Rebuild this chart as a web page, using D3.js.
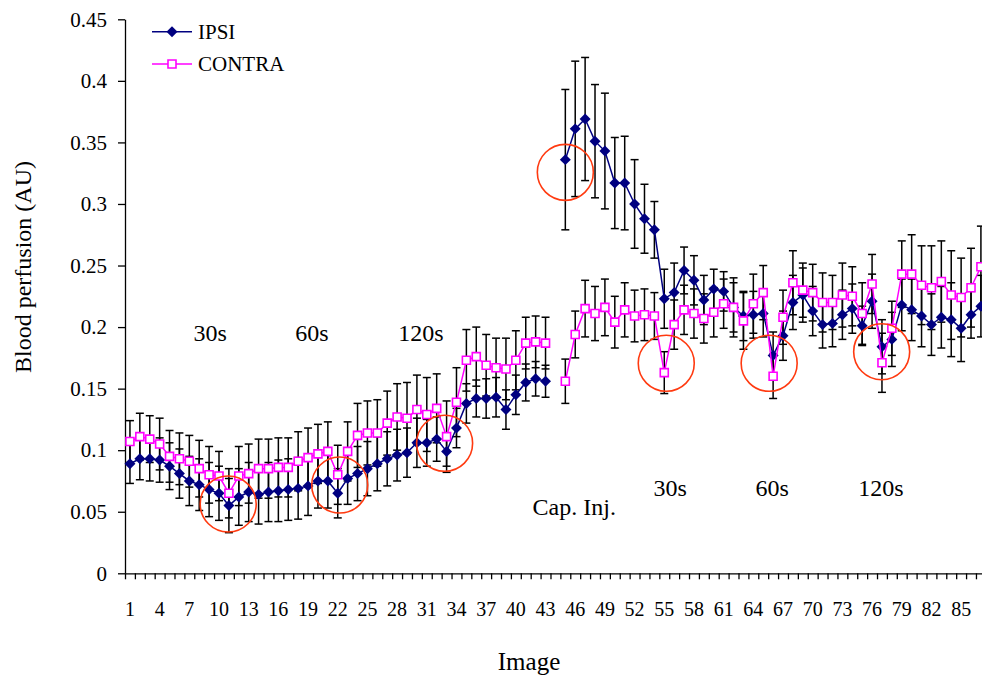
<!DOCTYPE html>
<html>
<head>
<meta charset="utf-8">
<script src="https://cdn.jsdelivr.net/npm/d3@7"></script>
<style>
body { margin: 0; background: #fff; }
text { font-family: "Liberation Serif", "Times New Roman", serif; fill: #000; }
</style>
</head>
<body>
<div id="chart"></div>
<script>
// image numbers 1..87 (image 44 was not measured)
const images = d3.range(1, 88);

const ipsi = [
  0.089, 0.093, 0.093, 0.092, 0.087, 0.081, 0.075, 0.072, 0.068, 0.065,
  0.055, 0.062, 0.066, 0.064, 0.066, 0.067, 0.068, 0.069, 0.071, 0.075,
  0.075, 0.065, 0.077, 0.081, 0.085, 0.089, 0.093, 0.096, 0.098, 0.106,
  0.106, 0.109, 0.099, 0.118, 0.138, 0.142, 0.142, 0.143, 0.133, 0.145,
  0.155, 0.158, 0.156, null, 0.336, 0.361, 0.369, 0.351, 0.343, 0.317,
  0.317, 0.300, 0.288, 0.279, 0.223, 0.228, 0.246, 0.238, 0.222, 0.231,
  0.229, 0.216, 0.209, 0.210, 0.211, 0.177, 0.193, 0.220, 0.226, 0.213,
  0.202, 0.203, 0.210, 0.215, 0.201, 0.221, 0.184, 0.190, 0.218, 0.214,
  0.209, 0.202, 0.208, 0.206, 0.199, 0.210, 0.217
];
const ipsiErr = [
  0.016, 0.017, 0.018, 0.018, 0.019, 0.020, 0.020, 0.021, 0.022, 0.022,
  0.022, 0.023, 0.024, 0.024, 0.024, 0.025, 0.025, 0.025, 0.024, 0.022,
  0.022, 0.020, 0.021, 0.022, 0.022, 0.022, 0.022, 0.021, 0.020, 0.020,
  0.019, 0.018, 0.012, 0.016, 0.016, 0.015, 0.016, 0.016, 0.016, 0.016,
  0.015, 0.014, 0.013, null, 0.057, 0.055, 0.050, 0.046, 0.047, 0.037,
  0.038, 0.036, 0.028, 0.023, 0.024, 0.024, 0.019, 0.020, 0.020, 0.016,
  0.016, 0.020, 0.020, 0.019, 0.019, 0.019, 0.020, 0.022, 0.022, 0.020,
  0.019, 0.019, 0.020, 0.020, 0.016, 0.022, 0.022, 0.022, 0.021, 0.025,
  0.025, 0.025, 0.025, 0.030, 0.027, 0.019, 0.025
];
const contra = [
  0.107, 0.111, 0.109, 0.105, 0.095, 0.093, 0.091, 0.085, 0.080, 0.079,
  0.065, 0.079, 0.081, 0.085, 0.085, 0.086, 0.086, 0.091, 0.094, 0.097,
  0.099, 0.080, 0.099, 0.112, 0.114, 0.114, 0.122, 0.127, 0.126, 0.133,
  0.129, 0.134, 0.111, 0.139, 0.173, 0.176, 0.169, 0.167, 0.166, 0.173,
  0.187, 0.188, 0.187, null, 0.156, 0.194, 0.215, 0.211, 0.216, 0.204,
  0.214, 0.209, 0.210, 0.209, 0.163, 0.202, 0.214, 0.211, 0.207, 0.212,
  0.219, 0.216, 0.205, 0.219, 0.228, 0.160, 0.208, 0.236, 0.230, 0.228,
  0.220, 0.220, 0.226, 0.225, 0.211, 0.235, 0.171, 0.199, 0.243, 0.243,
  0.234, 0.232, 0.237, 0.226, 0.224, 0.232, 0.249
];
const contraErr = [
  0.017, 0.019, 0.019, 0.021, 0.021, 0.021, 0.021, 0.023, 0.023, 0.020,
  0.020, 0.024, 0.024, 0.024, 0.024, 0.024, 0.024, 0.024, 0.024, 0.024,
  0.024, 0.024, 0.024, 0.026, 0.026, 0.027, 0.026, 0.027, 0.029, 0.028,
  0.030, 0.028, 0.029, 0.028, 0.025, 0.024, 0.025, 0.024, 0.025, 0.024,
  0.021, 0.021, 0.021, null, 0.018, 0.019, 0.023, 0.022, 0.023, 0.021,
  0.022, 0.021, 0.021, 0.019, 0.017, 0.020, 0.020, 0.020, 0.020, 0.020,
  0.020, 0.024, 0.023, 0.024, 0.022, 0.018, 0.022, 0.026, 0.022, 0.023,
  0.024, 0.022, 0.026, 0.024, 0.025, 0.024, 0.024, 0.022, 0.027, 0.032,
  0.032, 0.034, 0.033, 0.036, 0.032, 0.032, 0.033
];

const xTickLabels = d3.range(1, 88, 3);
const yTicks = d3.range(0, 0.4501, 0.05);

// text notes and red circles, placed in data units (image number, AU)
const phaseLabels = [
  {text: "30s", at: 9.1, v: 0.189},
  {text: "60s", at: 19.4, v: 0.189},
  {text: "120s", at: 30.4, v: 0.189},
  {text: "Cap. Inj.", at: 45.9, v: 0.047},
  {text: "30s", at: 55.6, v: 0.063},
  {text: "60s", at: 65.9, v: 0.063},
  {text: "120s", at: 76.9, v: 0.063}
];
const circled = [
  {at: 10.93, v: 0.0563},
  {at: 22.2, v: 0.0717},
  {at: 32.8, v: 0.1056},
  {at: 45.0, v: 0.3257},
  {at: 55.2, v: 0.1706},
  {at: 65.6, v: 0.1706},
  {at: 76.97, v: 0.180}
];

const width = 982, height = 680;
const plotLeft = 125, plotBottom = 573.3, plotTop = 19.3;
const step = 9.895;

const svg = d3.select("#chart").append("svg")
  .attr("width", width)
  .attr("height", height);

const x = d3.scaleBand().domain(images).range([plotLeft, plotLeft + images.length * step]).padding(0);
const xc = i => x(i) + x.bandwidth() / 2;
const xi = d3.scaleLinear().domain([1, 87]).range([xc(1), xc(87)]);
const xEdge = d3.scaleLinear().domain([0, images.length]).range(x.range());
const y = d3.scaleLinear().domain([0, 0.45]).range([plotBottom, plotTop]);

// y axis
const yAxis = svg.append("g")
  .attr("transform", `translate(${plotLeft},0)`)
  .call(d3.axisLeft(y).tickValues(yTicks)
    .tickFormat(d => String(+d.toFixed(2)))
    .tickSizeInner(7).tickSizeOuter(0).tickPadding(11));
yAxis.selectAll("text").style("font-size", "21px");

// x axis: tick marks between images, labels every third image
svg.append("g")
  .attr("transform", `translate(0,${plotBottom})`)
  .call(d3.axisBottom(xEdge).tickValues(d3.range(0, images.length + 1))
    .tickFormat("").tickSizeInner(6).tickSizeOuter(0));
const xAxis = svg.append("g")
  .attr("transform", `translate(0,${plotBottom})`)
  .call(d3.axisBottom(x).tickValues(xTickLabels).tickSize(0).tickPadding(29));
xAxis.select(".domain").remove();
xAxis.selectAll("text").style("font-size", "20px");

svg.selectAll(".domain, .tick line").attr("stroke", "#000").attr("stroke-width", 1.3);

function series(values, errs) {
  return images.map((img, k) => ({img, v: values[k], e: errs[k]})).filter(d => d.v != null);
}
const ipsiData = series(ipsi, ipsiErr);
const contraData = series(contra, contraErr);

// error bars
function errorBars(data) {
  const g = svg.append("g").attr("stroke", "#000").attr("stroke-width", 1.5);
  g.selectAll("line.v").data(data).join("line")
    .attr("x1", d => xc(d.img)).attr("x2", d => xc(d.img))
    .attr("y1", d => y(d.v - d.e)).attr("y2", d => y(d.v + d.e));
  for (const sign of [-1, 1]) {
    g.selectAll(null).data(data).join("line")
      .attr("x1", d => xc(d.img) - 4).attr("x2", d => xc(d.img) + 4)
      .attr("y1", d => y(d.v + sign * d.e)).attr("y2", d => y(d.v + sign * d.e));
  }
}
errorBars(ipsiData);
errorBars(contraData);

const line = d3.line()
  .defined(d => d.v != null)
  .x(d => xc(d.img))
  .y(d => y(d.v));

const ipsiAll = images.map((img, k) => ({img, v: ipsi[k]}));
const contraAll = images.map((img, k) => ({img, v: contra[k]}));

const navy = "#000080", magenta = "#ff00ff";
const diamond = d3.symbol(d3.symbolSquare, 60);
const square = d3.symbol(d3.symbolSquare, 64);

svg.append("path").datum(ipsiAll)
  .attr("fill", "none").attr("stroke", navy).attr("stroke-width", 1.5)
  .attr("d", line);
svg.append("g").selectAll("path").data(ipsiData).join("path")
  .attr("d", diamond)
  .attr("transform", d => `translate(${xc(d.img)},${y(d.v)}) rotate(45)`)
  .attr("fill", navy);

svg.append("path").datum(contraAll)
  .attr("fill", "none").attr("stroke", magenta).attr("stroke-width", 1.5)
  .attr("d", line);
svg.append("g").selectAll("path").data(contraData).join("path")
  .attr("d", square)
  .attr("transform", d => `translate(${xc(d.img)},${y(d.v)})`)
  .attr("fill", "#fff").attr("stroke", magenta).attr("stroke-width", 1.6);

// annotations
svg.append("g").selectAll("circle").data(circled).join("circle")
  .attr("cx", d => xi(d.at)).attr("cy", d => y(d.v)).attr("r", 28)
  .attr("fill", "none").attr("stroke", "#ff3a10").attr("stroke-width", 1.6);

svg.append("g").selectAll("text").data(phaseLabels).join("text")
  .attr("x", d => xi(d.at)).attr("y", d => y(d.v))
  .attr("text-anchor", "middle")
  .style("font-size", "24px")
  .text(d => d.text);

// legend
const legendItems = [
  {name: "IPSI", color: navy, shape: diamond, rot: 45, fill: navy},
  {name: "CONTRA", color: magenta, shape: square, rot: 0, fill: "#fff"}
];
const legend = svg.append("g").selectAll("g").data(legendItems).join("g")
  .attr("transform", (d, i) => `translate(152,${31.7 + i * 32.3})`);
legend.append("line").attr("x1", 0).attr("x2", 40)
  .attr("stroke", d => d.color).attr("stroke-width", 1.5);
legend.append("path")
  .attr("d", d => d.shape())
  .attr("transform", d => `translate(20,0) rotate(${d.rot})`)
  .attr("fill", d => d.fill)
  .attr("stroke", d => d.rot ? null : d.color)
  .attr("stroke-width", 1.6);
legend.append("text").attr("x", 46).attr("dy", "0.33em")
  .style("font-size", "21px")
  .text(d => d.name);

// axis titles
svg.append("text")
  .attr("x", 529).attr("y", 670)
  .attr("text-anchor", "middle")
  .style("font-size", "25px")
  .text("Image");
svg.append("text")
  .attr("transform", "translate(31,267) rotate(-90)")
  .attr("text-anchor", "middle")
  .style("font-size", "24px")
  .text("Blood perfusion (AU)");
</script>
</body>
</html>
